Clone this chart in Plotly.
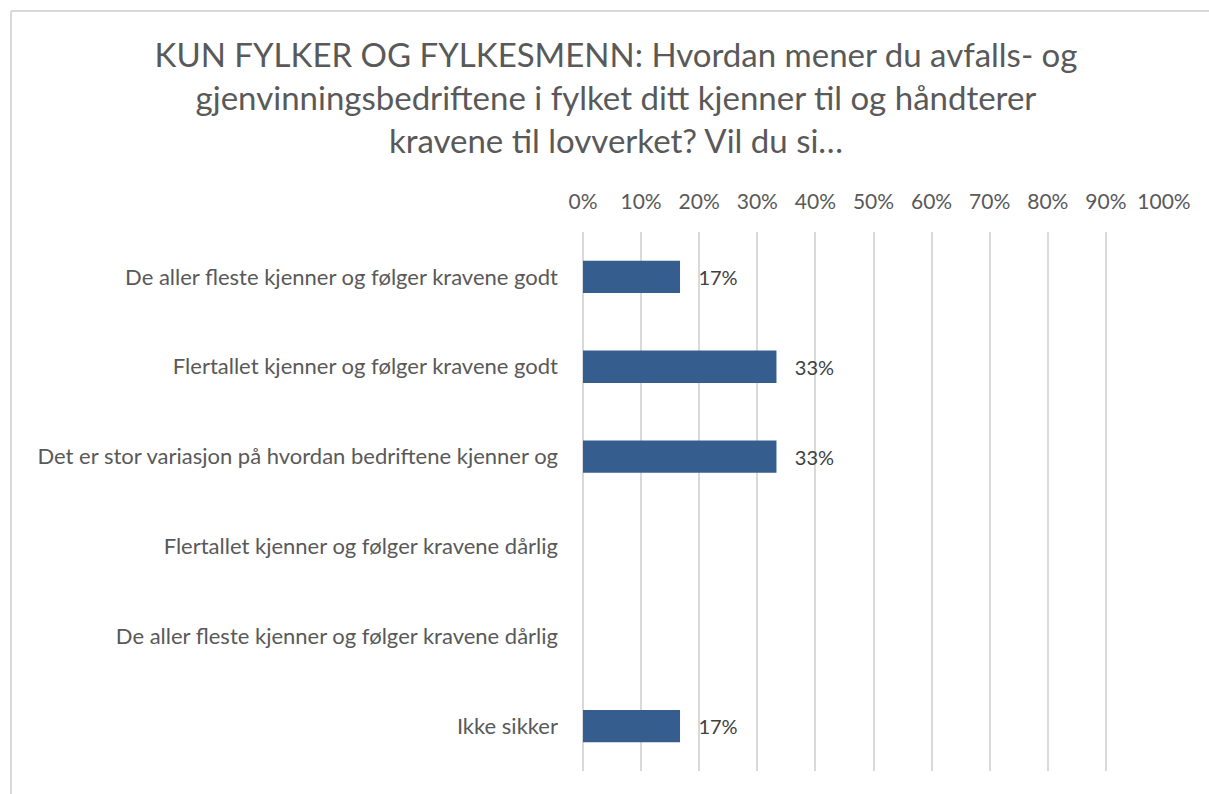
import plotly.graph_objects as go

categories = [
    "De aller fleste kjenner og følger kravene godt",
    "Flertallet kjenner og følger kravene godt",
    "Det er stor variasjon på hvordan bedriftene kjenner og",
    "Flertallet kjenner og følger kravene dårlig",
    "De aller fleste kjenner og følger kravene dårlig",
    "Ikke sikker",
]
values = [16.7, 33.3, 33.3, 0, 0, 16.7]
labels = ["17%", "33%", "33%", "", "", "17%"]
tick_vals = [0, 10, 20, 30, 40, 50, 60, 70, 80, 90, 100]
tick_text = ["0%", "10%", "20%", "30%", "40%", "50%", "60%", "70%", "80%", "90%", "100%"]

W, H = 1209, 794
L, R, T, B = 583, 45, 232, 23
pw, ph = W - L - R, H - T - B
FONT = "Lato, Carlito, sans-serif"
pad = "\u00a0\u00a0\u00a0"

fig = go.Figure(go.Bar(
    x=values, y=categories, orientation="h",
    marker=dict(color="#355E8F", line=dict(width=0)),
    text=[pad + t if t else "" for t in labels], textposition="outside", cliponaxis=False,
    textfont=dict(family=FONT, size=20, color="#404040"),
))

fig.update_layout(
    width=W, height=H,
    margin=dict(l=L, r=R, t=T, b=B),
    paper_bgcolor="white", plot_bgcolor="white",
    showlegend=False, bargap=0.64,
    font=dict(family=FONT, color="#595959"),
    title=dict(
        text="KUN FYLKER OG FYLKESMENN: Hvordan mener du avfalls- og<br>gjenvinningsbedriftene i fylket ditt kjenner til og håndterer<br>kravene til lovverket? Vil du si…",
        x=616 / W, xanchor="center", y=1 - 67 / H, yanchor="top",
        font=dict(size=33, color="#595959", family=FONT),
    ),
    xaxis=dict(
        side="top", range=[0, 100], tickvals=tick_vals, ticktext=tick_text,
        showgrid=True, gridcolor="#d9d9d9", gridwidth=1.5,
        zeroline=True, zerolinecolor="#d9d9d9", zerolinewidth=1.5,
        showline=False, ticks="",
        tickfont=dict(size=21, color="#595959"), ticklabelstandoff=18,
        fixedrange=True,
    ),
    yaxis=dict(
        autorange="reversed", showgrid=False, showline=False, ticks="",
        tickfont=dict(size=22, color="#595959"), ticklabelstandoff=24,
    ),
    shapes=[
        dict(type="line", xref="paper", yref="paper",
             x0=(11 - L) / pw, x1=(W - L) / pw, y0=(H - B - 11) / ph, y1=(H - B - 11) / ph,
             line=dict(color="#d9d9d9", width=2)),
        dict(type="line", xref="paper", yref="paper",
             x0=(11 - L) / pw, x1=(11 - L) / pw, y0=(H - B - 11) / ph, y1=-B / ph,
             line=dict(color="#d9d9d9", width=2)),
    ],
)

fig.write_html("out.html", config={"displayModeBar": False},
               post_script="document.body.style.margin='0';document.body.style.overflow='hidden';")
